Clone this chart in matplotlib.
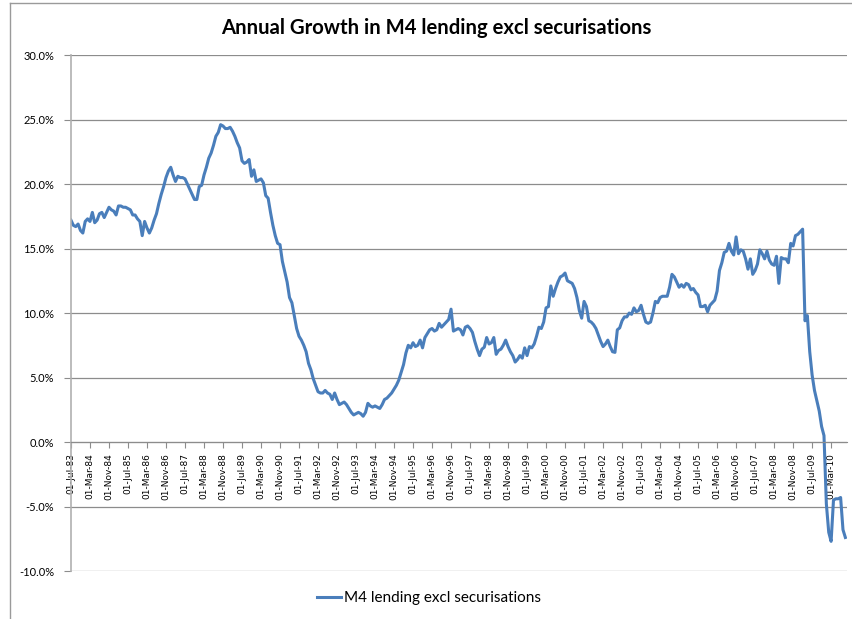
import numpy as np
import pandas as pd
import matplotlib
matplotlib.use("Agg")
import matplotlib.pyplot as plt
from matplotlib.lines import Line2D
from matplotlib.ticker import FuncFormatter

# monthly annual growth (%), Jul-83 .. Sep-10
y1983 = [17.2, 16.8, 16.7, 16.9, 16.4, 16.2]
y1984 = [17.1, 17.3, 17.1, 17.8, 17.0, 17.2, 17.7, 17.8, 17.4, 17.8, 18.2, 18.0]
y1985 = [17.9, 17.6, 18.3, 18.3, 18.2, 18.2, 18.1, 18.0, 17.6, 17.6, 17.3, 17.1]
y1986 = [16.0, 17.1, 16.6, 16.2, 16.6, 17.2, 17.7, 18.5, 19.2, 19.8, 20.5, 21.0]
y1987 = [21.3, 20.7, 20.2, 20.6, 20.5, 20.5, 20.4, 20.0, 19.6, 19.2, 18.8, 18.8]
y1988 = [19.8, 19.9, 20.7, 21.3, 22.0, 22.4, 23.0, 23.7, 24.0, 24.6, 24.5, 24.3]
y1989 = [24.3, 24.4, 24.1, 23.7, 23.2, 22.8, 21.8, 21.6, 21.7, 21.9, 20.6, 21.1]
y1990 = [20.2, 20.3, 20.4, 20.1, 19.1, 18.9, 17.8, 16.8, 16.0, 15.4, 15.3, 14.0]
y1991 = [13.2, 12.4, 11.2, 10.8, 9.8, 8.8, 8.2, 7.9, 7.5, 7.0, 6.1, 5.6]
y1992 = [4.9, 4.4, 3.9, 3.8, 3.8, 4.0, 3.8, 3.7, 3.3, 3.8, 3.3, 2.9]
y1993 = [3.0, 3.1, 2.9, 2.6, 2.3, 2.1, 2.2, 2.3, 2.2, 2.0, 2.3, 3.0]
y1994 = [2.8, 2.7, 2.8, 2.7, 2.6, 2.9, 3.3, 3.4, 3.6, 3.8, 4.1, 4.4]
y1995 = [4.8, 5.4, 6.0, 6.9, 7.5, 7.3, 7.7, 7.4, 7.5, 7.9, 7.3, 8.1]
y1996 = [8.4, 8.7, 8.8, 8.6, 8.7, 9.2, 8.9, 9.1, 9.3, 9.5, 10.3, 8.6]
y1997 = [8.7, 8.8, 8.7, 8.3, 8.9, 9.0, 8.8, 8.5, 7.8, 7.2, 6.7, 7.2]
y1998 = [7.35, 8.1, 7.6, 7.7, 8.1, 6.8, 7.1, 7.2, 7.5, 7.9, 7.4, 7.0]
y1999 = [6.7, 6.2, 6.4, 6.7, 6.5, 7.3, 6.7, 7.4, 7.3, 7.6, 8.2, 8.9]
y2000 = [8.8, 9.3, 10.4, 10.5, 12.1, 11.3, 11.9, 12.4, 12.8, 12.9, 13.1, 12.5]
y2001 = [12.4, 12.3, 11.9, 11.2, 10.2, 9.6, 10.9, 10.5, 9.4, 9.3, 9.1, 8.8]
y2002 = [8.3, 7.8, 7.4, 7.6, 7.9, 7.4, 7.0, 6.95, 8.7, 8.85, 9.4, 9.7]
y2003 = [9.7, 10.0, 9.9, 10.4, 10.1, 10.2, 10.6, 9.9, 9.3, 9.2, 9.3, 10.0]
y2004 = [10.9, 10.8, 11.2, 11.3, 11.3, 11.3, 12.0, 13.0, 12.8, 12.4, 12.0, 12.2]
y2005 = [12.0, 12.3, 12.2, 11.8, 11.9, 11.6, 11.4, 10.5, 10.5, 10.6, 10.1, 10.6]
y2006 = [10.8, 11.0, 11.7, 13.3, 13.9, 14.7, 14.8, 15.4, 14.8, 14.5, 15.9, 14.6]
y2007 = [14.9, 14.8, 14.2, 13.4, 14.2, 13.0, 13.3, 13.8, 14.9, 14.6, 14.2, 14.8]
y2008 = [14.1, 13.8, 13.7, 14.4, 12.3, 14.3, 14.2, 14.2, 13.9, 15.4, 15.2, 16.0]
y2009 = [16.1, 16.3, 16.5, 9.4, 9.8, 7.0, 5.2, 4.0, 3.2, 2.4, 1.2, 0.5]
y2010 = [-4.8, -7.0, -7.7, -4.5, -4.4, -4.4, -4.3, -6.8, -7.4]

growth = (y1983 + y1984 + y1985 + y1986 + y1987 + y1988 + y1989 + y1990 + y1991
          + y1992 + y1993 + y1994 + y1995 + y1996 + y1997 + y1998 + y1999 + y2000
          + y2001 + y2002 + y2003 + y2004 + y2005 + y2006 + y2007 + y2008 + y2009
          + y2010)
dates = pd.date_range("1983-07-01", periods=len(growth), freq="MS")
series_name = "M4 lending excl securisations"
title = "Annual Growth in M4 lending excl securisations"

x = np.arange(len(growth))
tick_pos = x[::8]
tick_labels = [d.strftime("%d-%b-%y") for d in dates[::8]]

fig = plt.figure(figsize=(8.53, 6.19), dpi=100)
ax = fig.add_axes([0.0832, 0.0775, 0.9098, 0.8336])

line_color = "#4A7EBB"
grid_color = "#8C8C8C"

ax.plot(x, growth, color=line_color, lw=2.2, label=series_name, solid_joinstyle="round")

ax.set_xlim(0, 326.7)
ax.set_ylim(-10, 30)
ax.set_yticks(np.arange(-10, 31, 5))
ax.yaxis.set_major_formatter(FuncFormatter(lambda v, p: f"{v:.1f}%"))
ax.grid(axis="y", color=grid_color, lw=0.9)
ax.set_axisbelow(True)

for s in ["top", "right"]:
    ax.spines[s].set_visible(False)
ax.spines["bottom"].set_position(("data", 0))
ax.spines["bottom"].set_color(grid_color)
ax.spines["left"].set_color("#B0B0B0")
ax.spines["left"].set_linewidth(1.2)

ax.set_xticks(tick_pos)
ax.set_xticklabels(tick_labels, rotation=90, fontsize=6.5, family="DejaVu Sans",
                   va="top", ha="center")
ax.tick_params(axis="x", direction="out", length=4, color=grid_color, pad=4)
ax.tick_params(axis="y", direction="out", length=5, color=grid_color, pad=7,
               labelsize=8)
for lab in ax.get_yticklabels():
    lab.set_family("Lato")

fig.text(0.511, 0.955, title, ha="center", va="center", fontsize=14.6,
         fontweight="bold", family="Lato")

fig.legend(loc="center", bbox_to_anchor=(0.503, 0.034), frameon=False,
           prop={"family": "Lato", "size": 11}, handlelength=1.6,
           handletextpad=0.2)

# chart area border
fig.add_artist(Line2D([10 / 853, 10 / 853], [0, 1 - 3 / 619],
                      transform=fig.transFigure, color="#9A9A9A", lw=1))
fig.add_artist(Line2D([10 / 853, 1], [1 - 3 / 619, 1 - 3 / 619],
                      transform=fig.transFigure, color="#9A9A9A", lw=1))

fig.savefig("out.png", dpi=100)
